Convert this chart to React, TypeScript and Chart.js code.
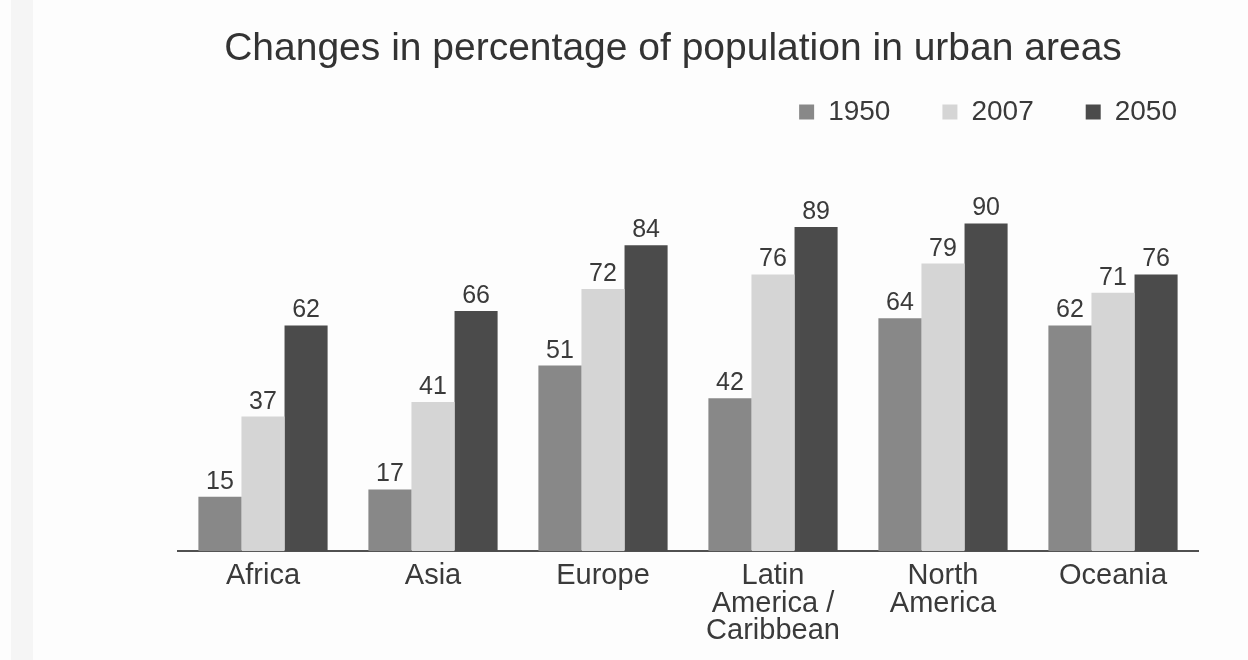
import { useEffect, useRef } from "react";
import { Chart, registerables } from "chart.js";

Chart.register(...registerables);

// Regions along the x axis (arrays wrap onto several lines)
const regions: (string | string[])[] = [
  "Africa",
  "Asia",
  "Europe",
  ["Latin", "America /", "Caribbean"],
  ["North", "America"],
  "Oceania",
];

// Series names and urban population share (%) per region
const years = ["1950", "2007", "2050"];
const urban1950 = [15, 17, 51, 42, 64, 62];
const urban2007 = [37, 41, 72, 76, 79, 71];
const urban2050 = [62, 66, 84, 89, 90, 76];

const barColors = ["#888888", "#d5d5d5", "#4b4b4b"];
const textColor = "#3a3a3a";
const fontFamily = "'Liberation Sans', Arial, Helvetica, sans-serif";
const yMax = 114;

// Writes each bar's value just above its top edge
const valueLabels = {
  id: "valueLabels",
  afterDatasetsDraw(chart: any) {
    const { ctx } = chart;
    ctx.save();
    ctx.font = `25px ${fontFamily}`;
    ctx.fillStyle = textColor;
    ctx.textAlign = "center";
    ctx.textBaseline = "alphabetic";
    chart.data.datasets.forEach((ds: any, i: number) => {
      const meta = chart.getDatasetMeta(i);
      meta.data.forEach((bar: any, j: number) => {
        ctx.fillText(String(ds.data[j]), bar.x, bar.y - 8);
      });
    });
    ctx.restore();
  },
};

export default function App() {
  const canvasRef = useRef<HTMLCanvasElement | null>(null);

  useEffect(() => {
    if (!canvasRef.current) return;
    const series = [urban1950, urban2007, urban2050];
    const chart = new Chart(canvasRef.current, {
      type: "bar",
      data: {
        labels: regions,
        datasets: years.map((year, i) => ({
          label: year,
          data: series[i],
          backgroundColor: barColors[i],
          borderWidth: 0,
          barPercentage: 1,
          categoryPercentage: 0.76,
        })),
      },
      plugins: [valueLabels],
      options: {
        animation: false,
        responsive: true,
        maintainAspectRatio: false,
        layout: { padding: { left: 117, right: 19, top: 0, bottom: 4 } },
        plugins: {
          title: {
            display: true,
            text: "Changes in percentage of population in urban areas",
            color: "#333333",
            font: { family: fontFamily, size: 39, weight: "normal", lineHeight: 1.2 },
            padding: { top: 26, bottom: -26.8 },
          },
          legend: {
            position: "top",
            align: "end",
            labels: {
              color: textColor,
              font: { family: fontFamily, size: 28 },
              boxWidth: 15,
              boxHeight: 15,
              padding: 52,
            },
          },
          tooltip: { enabled: false },
        },
        scales: {
          x: {
            grid: { display: false, drawTicks: false },
            border: { display: true, color: "#505050", width: 2 },
            ticks: {
              color: textColor,
              font: { family: fontFamily, size: 29, lineHeight: 0.95 },
              padding: 11,
              maxRotation: 0,
              autoSkip: false,
            },
          },
          y: {
            min: 0,
            max: yMax,
            display: true,
            ticks: { display: false },
            grid: { display: false },
            border: { display: false },
            afterFit(scale: any) {
              scale.width = 61;
            },
          },
          yRight: {
            type: "linear",
            position: "right",
            display: true,
            ticks: { display: false },
            grid: { display: false },
            border: { display: false },
            afterFit(scale: any) {
              scale.width = 31;
            },
          },
        },
      } as any,
    });
    return () => chart.destroy();
  }, []);

  return (
    <div
      style={{
        position: "fixed",
        left: 0,
        top: 0,
        width: 1248,
        height: 660,
        background: "#fdfdfd",
      }}
    >
      <div
        style={{
          position: "absolute",
          left: 11,
          top: 0,
          width: 22,
          height: 660,
          background: "#f5f5f5",
        }}
      />
      <canvas ref={canvasRef} style={{ position: "relative" }} />
    </div>
  );
}
